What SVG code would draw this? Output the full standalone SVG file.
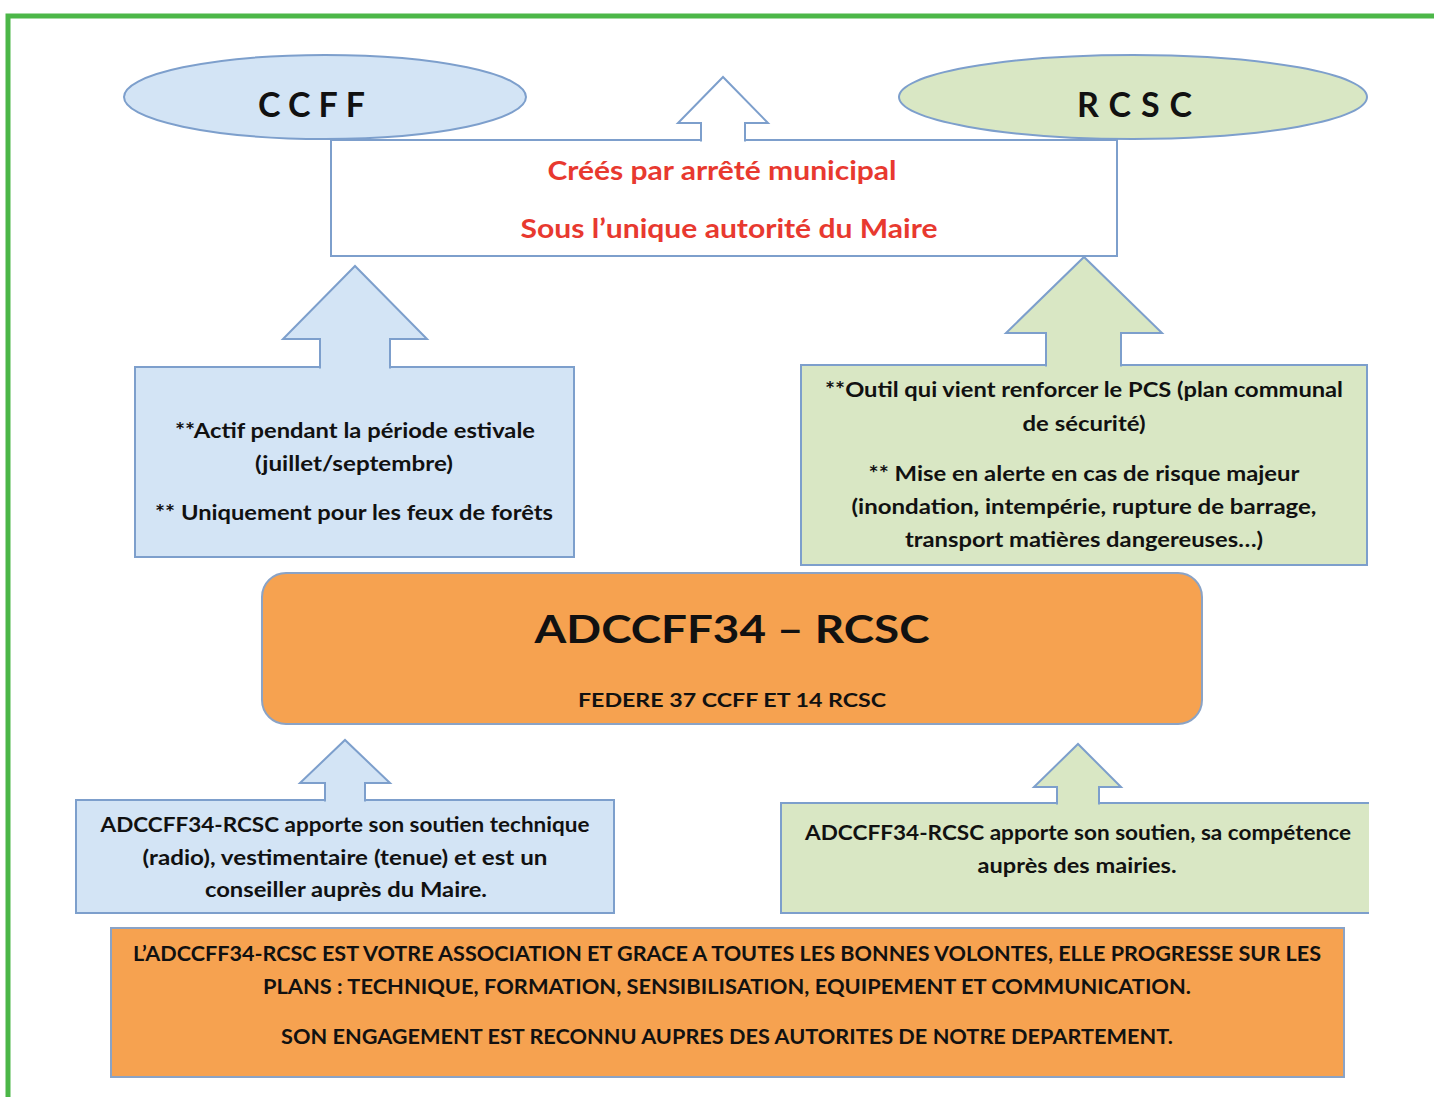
<svg xmlns="http://www.w3.org/2000/svg" width="1434" height="1097" viewBox="0 0 1434 1097">
<style>
.frame{fill:none;stroke:#4cb748;stroke-width:5}
.blue{fill:#d3e4f5;stroke:#7d9fcc;stroke-width:2}
.green{fill:#d9e7c4;stroke:#7d9fcc;stroke-width:2}
.orange{fill:#f6a250;stroke:#8aa3c6;stroke-width:2}
.white{fill:#ffffff;stroke:#7d9fcc;stroke-width:2}
text{font-family:Lato,"Open Sans","Liberation Sans",sans-serif;font-weight:bold;fill:#111;text-anchor:middle}
.red{fill:#e8392f;font-size:27px}
.s{font-size:21px}
.t{font-size:20px}
.big{font-size:38px}
.sub{font-size:19px}
.ell{font-size:34px;text-anchor:start}
</style>
<rect class="frame" x="8" y="16" width="1440" height="1100"/>

<g id="top-box">
<rect class="white" x="331" y="140" width="786" height="116"/>
<text class="red" x="722" y="180" textLength="349" lengthAdjust="spacingAndGlyphs">Créés par arrêté municipal</text>
<text class="red" x="729" y="238" textLength="417" lengthAdjust="spacingAndGlyphs">Sous l’unique autorité du Maire</text>
</g>

<g id="ccff">
<ellipse class="blue" cx="325" cy="97" rx="201" ry="42"/>
<text class="ell" x="258" y="117" textLength="107" lengthAdjust="spacing">CCFF</text>
</g>

<g id="rcsc">
<ellipse class="green" cx="1133" cy="97" rx="234" ry="42"/>
<text class="ell" x="1077" y="117" textLength="115" lengthAdjust="spacing">RCSC</text>
</g>

<g id="ccff-info">
<rect class="blue" x="135" y="367" width="439" height="190"/>
<text class="s" x="355" y="438" textLength="360" lengthAdjust="spacingAndGlyphs">**Actif pendant la période estivale</text>
<text class="s" x="354" y="471" textLength="198" lengthAdjust="spacingAndGlyphs">(juillet/septembre)</text>
<text class="s" x="354" y="520" textLength="398" lengthAdjust="spacingAndGlyphs">** Uniquement pour les feux de forêts</text>
</g>

<g id="rcsc-info">
<rect class="green" x="801" y="365" width="566" height="200"/>
<text class="s" x="1084" y="397" textLength="518" lengthAdjust="spacingAndGlyphs">**Outil qui vient renforcer le PCS (plan communal</text>
<text class="s" x="1084" y="431" textLength="123" lengthAdjust="spacingAndGlyphs">de sécurité)</text>
<text class="s" x="1084" y="481" textLength="431" lengthAdjust="spacingAndGlyphs">** Mise en alerte en cas de risque majeur</text>
<text class="s" x="1084" y="514" textLength="465" lengthAdjust="spacingAndGlyphs">(inondation, intempérie, rupture de barrage,</text>
<text class="s" x="1084" y="547" textLength="358" lengthAdjust="spacingAndGlyphs">transport matières dangereuses…)</text>
</g>

<g id="adccff34">
<rect class="orange" x="262" y="573" width="940" height="151" rx="24" ry="24"/>
<text class="big" x="732" y="643" textLength="395" lengthAdjust="spacingAndGlyphs">ADCCFF34 – RCSC</text>
<text class="sub" x="732" y="707" textLength="308" lengthAdjust="spacingAndGlyphs">FEDERE 37 CCFF ET 14 RCSC</text>
</g>

<g id="support-left">
<rect class="blue" x="76" y="800" width="538" height="113"/>
<text class="t" x="345" y="832" textLength="489" lengthAdjust="spacingAndGlyphs">ADCCFF34-RCSC apporte son soutien technique</text>
<text class="t" x="345" y="865" textLength="405" lengthAdjust="spacingAndGlyphs">(radio), vestimentaire (tenue) et est un</text>
<text class="t" x="346" y="897" textLength="282" lengthAdjust="spacingAndGlyphs">conseiller auprès du Maire.</text>
</g>

<g id="support-right">
<path d="M1369,803 H781 V913 H1369 Z" fill="#d9e7c4"/>
<path d="M1369,803 H781 V913 H1369" fill="none" stroke="#7d9fcc" stroke-width="2"/>
<text class="t" x="1078" y="840" textLength="546" lengthAdjust="spacingAndGlyphs">ADCCFF34-RCSC apporte son soutien, sa compétence</text>
<text class="t" x="1077" y="873" textLength="199" lengthAdjust="spacingAndGlyphs">auprès des mairies.</text>
</g>

<g id="association">
<rect class="orange" x="111" y="928" width="1233" height="149"/>
<text class="t" x="727" y="961" textLength="1188" lengthAdjust="spacingAndGlyphs">L’ADCCFF34-RCSC EST VOTRE ASSOCIATION ET GRACE A TOUTES LES BONNES VOLONTES, ELLE PROGRESSE SUR LES</text>
<text class="t" x="727" y="994" textLength="928" lengthAdjust="spacingAndGlyphs">PLANS : TECHNIQUE, FORMATION, SENSIBILISATION, EQUIPEMENT ET COMMUNICATION.</text>
<text class="t" x="727" y="1044" textLength="892" lengthAdjust="spacingAndGlyphs">SON ENGAGEMENT EST RECONNU AUPRES DES AUTORITES DE NOTRE DEPARTEMENT.</text>
</g>

<g id="connectors">
<path class="white" d="M701,141.5 V123 H678 L723,77 L768,123 H745 V141.5"/>
<path class="blue" d="M320,368.5 V339 H283 L355,266 L427,339 H390 V368.5"/>
<path class="green" d="M1046,366.5 V333 H1006 L1084,257 L1162,333 H1121 V366.5"/>
<path class="blue" d="M325,801.5 V783 H300 L345,740 L390,783 H365 V801.5"/>
<path class="green" d="M1057,804.5 V787 H1034 L1078,744 L1121,787 H1099 V804.5"/>
</g>
</svg>
